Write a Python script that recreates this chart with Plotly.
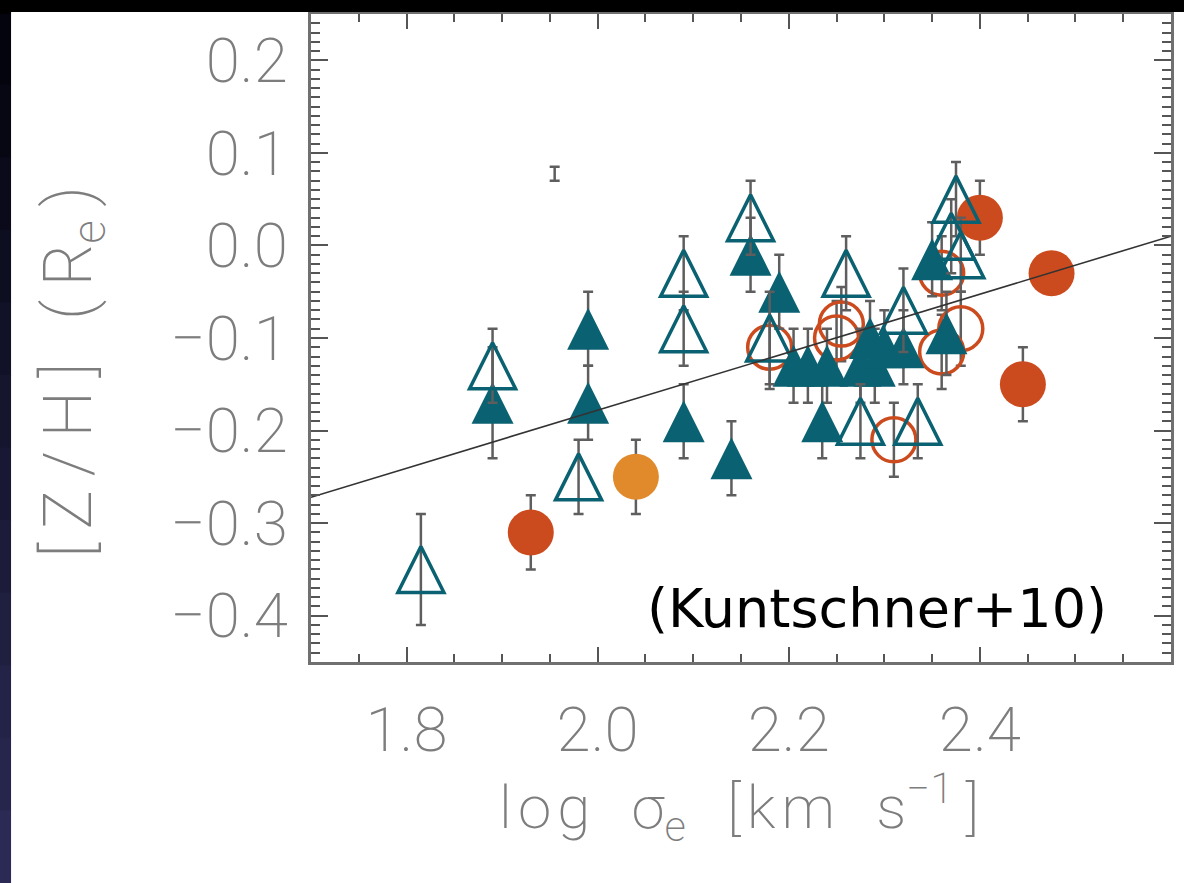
import plotly.graph_objects as go

# ---- data ----
ft_x = [1.89, 1.99, 1.99, 2.09, 2.14, 2.16, 2.19, 2.205, 2.22, 2.24, 2.235, 2.275, 2.285, 2.29, 2.30, 2.32, 2.35, 2.365]
ft_y = [-0.17, -0.09, -0.17, -0.19, -0.23, -0.01, -0.05, -0.13, -0.13, -0.13, -0.19, -0.13, -0.10, -0.13, -0.11, -0.11, -0.015, -0.095]
ft_e = [0.06, 0.04, 0.04, 0.04, 0.04, 0.04, 0.04, 0.04, 0.04, 0.04, 0.04, 0.04, 0.04, 0.04, 0.04, 0.04, 0.04, 0.045]

ot_x = [1.815, 1.89, 1.98, 2.09, 2.09, 2.16, 2.18, 2.26, 2.275, 2.335, 2.32, 2.375, 2.37, 2.38]
ot_y = [-0.35, -0.13, -0.25, -0.03, -0.09, 0.03, -0.10, -0.03, -0.19, -0.19, -0.07, 0.05, 0.01, -0.01]
ot_e = [0.06, 0.04, 0.04, 0.04, 0.04, 0.04, 0.05, 0.04, 0.04, 0.04, 0.045, 0.04, 0.04, 0.04]

oc_x = [2.18, 2.255, 2.25, 2.31, 2.36, 2.36, 2.38]
oc_y = [-0.11, -0.085, -0.10, -0.21, -0.03, -0.115, -0.09]
oc_e = [0.045, 0.04, 0.04, 0.04, 0.04, 0.04, 0.04]

fc_x = [1.93, 2.40, 2.445, 2.475]
fc_y = [-0.31, 0.03, -0.15, -0.03]
fc_e = [0.04, 0.04, 0.04, 0.0]

oc2_x = [2.04]
oc2_y = [-0.25]
oc2_e = [0.04]

stray_x = [1.955]
stray_y = [0.085]
stray_em = [0.015]

fit_x = [1.7, 2.6]
fit_y = [-0.272, 0.010]

x_ticks = [1.8, 2.0, 2.2, 2.4]
x_ticktext = ["1.8", "2.0", "2.2", "2.4"]
y_ticks = [-0.4, -0.3, -0.2, -0.1, 0.0, 0.1, 0.2]
y_ticktext = ["\u22120.4", "\u22120.3", "\u22120.2", "\u22120.1", "0.0", "0.1", "0.2"]

TEAL = "#0A6171"
RED = "#CC4B1E"
ORANGE = "#E08A2B"
ERR = dict(type="data", visible=True, color="#5e5e5e", thickness=2.5, width=5)

FT_SIZE = 42
OT_SIZE = 46

fig = go.Figure()

fig.add_trace(go.Scatter(x=stray_x, y=stray_y, mode="markers",
                         marker=dict(size=1, color="rgba(0,0,0,0)"),
                         error_y=dict(ERR, array=[0], arrayminus=stray_em, symmetric=False)))

fig.add_trace(go.Scatter(x=oc_x, y=oc_y, mode="markers",
                         marker=dict(symbol="circle-open", size=44, color=RED, line=dict(width=3.5, color=RED)),
                         error_y=dict(ERR, array=oc_e)))
fig.add_trace(go.Scatter(x=fc_x, y=fc_y, mode="markers",
                         marker=dict(symbol="circle", size=46, color=RED, line=dict(width=0)),
                         error_y=dict(ERR, array=fc_e)))
fig.add_trace(go.Scatter(x=oc2_x, y=oc2_y, mode="markers",
                         marker=dict(symbol="circle", size=46, color=ORANGE, line=dict(width=0)),
                         error_y=dict(ERR, array=oc2_e)))
# upward triangles centred on the point: arrow shape turned 180 deg and pushed back by half its size
fig.add_trace(go.Scatter(x=ft_x, y=ft_y, mode="markers",
                         marker=dict(symbol="arrow-down", angle=180, standoff=FT_SIZE / 2, size=FT_SIZE,
                                     color=TEAL, line=dict(width=0)),
                         error_y=dict(ERR, array=ft_e)))
fig.add_trace(go.Scatter(x=ot_x, y=ot_y, mode="markers",
                         marker=dict(symbol="arrow-down-open", angle=180, standoff=OT_SIZE / 2, size=OT_SIZE,
                                     color=TEAL, line=dict(width=3.5, color=TEAL)),
                         error_y=dict(ERR, array=ot_e)))
fig.add_trace(go.Scatter(x=fit_x, y=fit_y, mode="lines",
                         line=dict(color="#333333", width=1.6)))

FAMILY = "Roboto, DejaVu Sans, sans-serif"
TICKFONT = dict(family=FAMILY, size=62, color="#7d7d7d", weight=200)

fig.update_xaxes(range=[1.7, 2.6], tickvals=x_ticks, ticktext=x_ticktext,
                 ticks="inside", ticklen=15, tickwidth=2, tickcolor="#555",
                 minor=dict(dtick=0.05, tick0=1.7, ticks="inside", ticklen=8, tickwidth=1.5, tickcolor="#555"),
                 showline=True, linecolor="#707070", linewidth=2.5, mirror="ticks",
                 showgrid=False, zeroline=False, tickfont=TICKFONT, ticklabelstandoff=12)
fig.update_yaxes(range=[-0.45, 0.25], tickvals=y_ticks, ticktext=y_ticktext,
                 ticks="inside", ticklen=17, tickwidth=2, tickcolor="#555",
                 minor=dict(dtick=0.01, tick0=0, ticks="inside", ticklen=9, tickwidth=1.5, tickcolor="#555"),
                 showline=True, linecolor="#707070", linewidth=2.5, mirror="ticks",
                 showgrid=False, zeroline=False, tickfont=TICKFONT, ticklabelstandoff=8)

W, H = 1184, 883
L, R, T, B = 311, 10, 14, 221
pw, ph = W - L - R, H - T - B


def px2x(px):
    return (px - L) / pw


def py2y(py):
    return (H - B - py) / ph


shapes = [dict(type="rect", xref="paper", yref="paper", x0=px2x(-5), x1=px2x(W + 5),
               y0=py2y(12), y1=py2y(-5), fillcolor="#000000", line=dict(width=0), layer="above")]
n = 12
for i in range(n):
    t = i / (n - 1)
    r = int(4 + 38 * t); g = int(4 + 38 * t); b = int(14 + 70 * t)
    shapes.append(dict(type="rect", xref="paper", yref="paper", x0=px2x(-5), x1=px2x(10),
                       y0=py2y(12 + (i + 1) * (H - 12) / n + 1), y1=py2y(12 + i * (H - 12) / n),
                       fillcolor=f"rgb({r},{g},{b})", line=dict(width=0), layer="above"))
shapes.append(dict(type="rect", xref="paper", yref="paper", x0=px2x(-5), x1=px2x(10),
                   y0=py2y(14), y1=py2y(-5), fillcolor="#000000", line=dict(width=0), layer="above"))

HS = "\u200a"   # hair space for the loose letter spacing of the original titles
TS = "\u2009"   # thin space
GAP = "\u00a0" + TS + " "
x_title = (HS.join("log") + GAP + "\u03c3<sub>e</sub>" + GAP + HS.join("[km") + GAP
           + "s<sup>\u22121</sup>" + TS + "]")
y_title = TS.join("[Z/H]") + TS + " " + TS + TS.join("(R") + "<sub>e</sub>" + TS + ")"

annotations = [
    dict(text="(Kuntschner+10)", xref="paper", yref="paper", x=px2x(1112), y=py2y(608),
         xanchor="right", yanchor="middle", showarrow=False,
         font=dict(family="DejaVu Sans, sans-serif", size=54, color="#000000")),
    dict(text=x_title, xref="paper", yref="paper",
         x=px2x(740), y=py2y(808), xanchor="center", yanchor="middle", showarrow=False,
         font=dict(family=FAMILY, size=60, color="#7d7d7d", weight=200)),
    dict(text=y_title, xref="paper", yref="paper",
         x=px2x(72), y=py2y(372), xanchor="center", yanchor="middle", showarrow=False,
         textangle=-90, font=dict(family=FAMILY, size=66, color="#7d7d7d", weight=200)),
]

fig.update_layout(width=W, height=H, autosize=False,
                  margin=dict(l=L, r=R, t=T, b=B, pad=0),
                  paper_bgcolor="white", plot_bgcolor="white",
                  showlegend=False, shapes=shapes, annotations=annotations)

fig.write_html("out.html", config={"displayModeBar": False},
               post_script="document.body.style.margin='0px';document.body.style.overflow='hidden';")
